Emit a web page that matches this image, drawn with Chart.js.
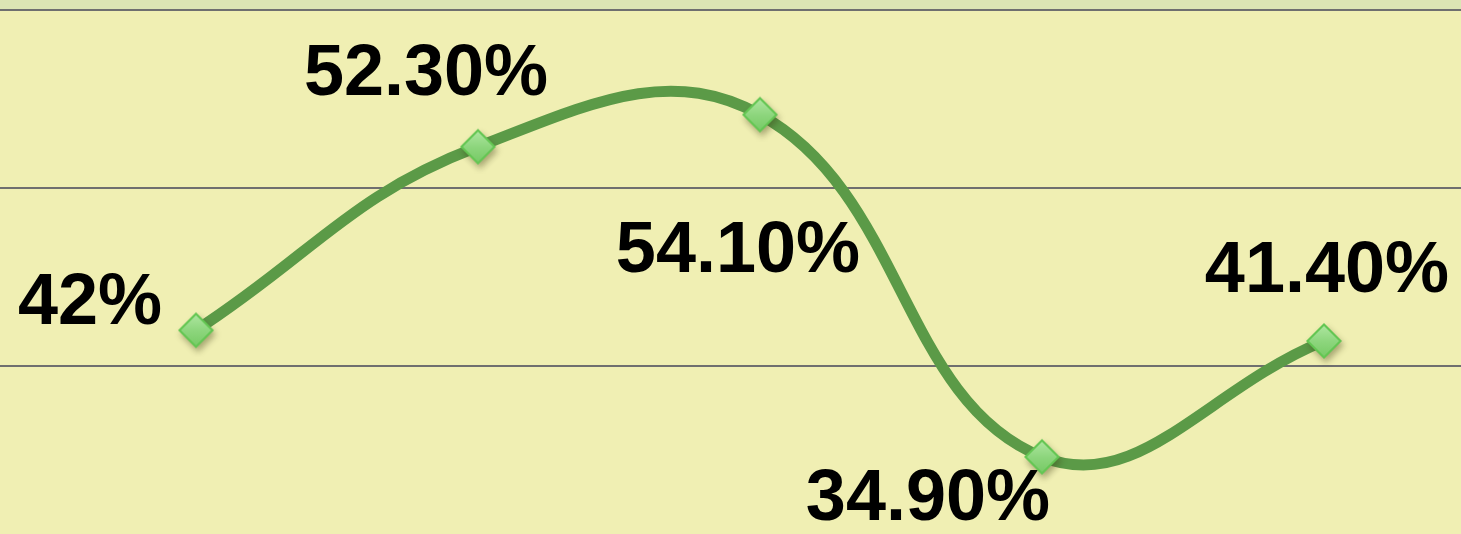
<!DOCTYPE html>
<html>
<head>
<meta charset="utf-8">
<script src="https://cdn.jsdelivr.net/npm/chart.js@4/dist/chart.umd.min.js"></script>
<style>
  html, body { margin: 0; padding: 0; background: #DCE5B4; }
  canvas { display: block; }
</style>
</head>
<body>
<canvas id="chart" width="1461" height="534"></canvas>
<script>
// data
const values = [42, 52.3, 54.1, 34.9, 41.4];
const valueLabels = ['42%', '52.30%', '54.10%', '34.90%', '41.40%'];
const gridTicks = [40, 50, 60];

// where each label sits relative to its point (text centre x, baseline y)
const labelDx = [-106, -52, -22, -114, 3];
const labelDy = [-6, -52, 157, 63, -49];

const LINE_GREEN = '#5B9A47';
const PLOT_BG = '#F0EFB3';
const OUTER_BG = '#DCE5B4';

function makeDiamond(r) {
  const pad = 9;
  const size = 2 * r + 2 * pad;
  const c = document.createElement('canvas');
  c.width = c.height = size;
  const g = c.getContext('2d');
  const cx = size / 2, cy = size / 2;
  const path = (rr) => {
    g.beginPath();
    g.moveTo(cx, cy - rr);
    g.lineTo(cx + rr, cy);
    g.lineTo(cx, cy + rr);
    g.lineTo(cx - rr, cy);
    g.closePath();
  };
  g.save();
  g.shadowColor = 'rgba(60,60,20,0.4)';
  g.shadowBlur = 6;
  g.shadowOffsetX = 2;
  g.shadowOffsetY = 4;
  path(r);
  g.fillStyle = '#64C653';
  g.fill();
  g.restore();
  path(r - 3);
  const grad = g.createLinearGradient(0, cy - r, 0, cy + r);
  grad.addColorStop(0, '#B2E8A4');
  grad.addColorStop(0.5, '#8ED67E');
  grad.addColorStop(1, '#74C963');
  g.fillStyle = grad;
  g.fill();
  return c;
}

const diamond = makeDiamond(18);

const bgPlugin = {
  id: 'bg',
  beforeDraw(chart) {
    const { ctx, chartArea: a } = chart;
    ctx.save();
    ctx.fillStyle = OUTER_BG;
    ctx.fillRect(0, 0, chart.width, chart.height);
    ctx.fillStyle = PLOT_BG;
    ctx.fillRect(a.left, a.top, a.right - a.left, a.bottom - a.top);
    ctx.restore();
  }
};

const labelPlugin = {
  id: 'valueLabels',
  beforeDatasetsDraw(chart) {
    const { ctx } = chart;
    const meta = chart.getDatasetMeta(0);
    ctx.save();
    ctx.font = 'bold 72px "Liberation Sans", Arial, sans-serif';
    ctx.fillStyle = '#000';
    ctx.textAlign = 'center';
    ctx.textBaseline = 'alphabetic';
    meta.data.forEach((p, i) => {
      ctx.fillText(valueLabels[i], p.x + labelDx[i], p.y + labelDy[i]);
    });
    ctx.restore();
  }
};

new Chart(document.getElementById('chart'), {
  type: 'line',
  plugins: [bgPlugin, labelPlugin],
  data: {
    datasets: [{
      data: values.map((v, i) => ({ x: i, y: v })),
      borderColor: LINE_GREEN,
      borderWidth: 11,
      tension: 0.42,
      pointStyle: diamond,
      pointRadius: 18,
      borderCapStyle: 'round',
      clip: false
    }]
  },
  options: {
    responsive: false,
    animation: false,
    layout: { autoPadding: false, padding: { top: 9.5, left: 0, right: 0, bottom: 0 } },
    plugins: { legend: { display: false }, tooltip: { enabled: false } },
    scales: {
      x: {
        type: 'linear',
        display: false,
        min: -0.695,
        max: 4.486
      },
      y: {
        min: 30.57,
        max: 60,
        afterBuildTicks(scale) { scale.ticks = gridTicks.map(v => ({ value: v })); },
        ticks: { display: false },
        border: { display: false },
        grid: { color: '#6F6F6F', lineWidth: 2, drawTicks: false }
      }
    }
  }
});
</script>
</body>
</html>
